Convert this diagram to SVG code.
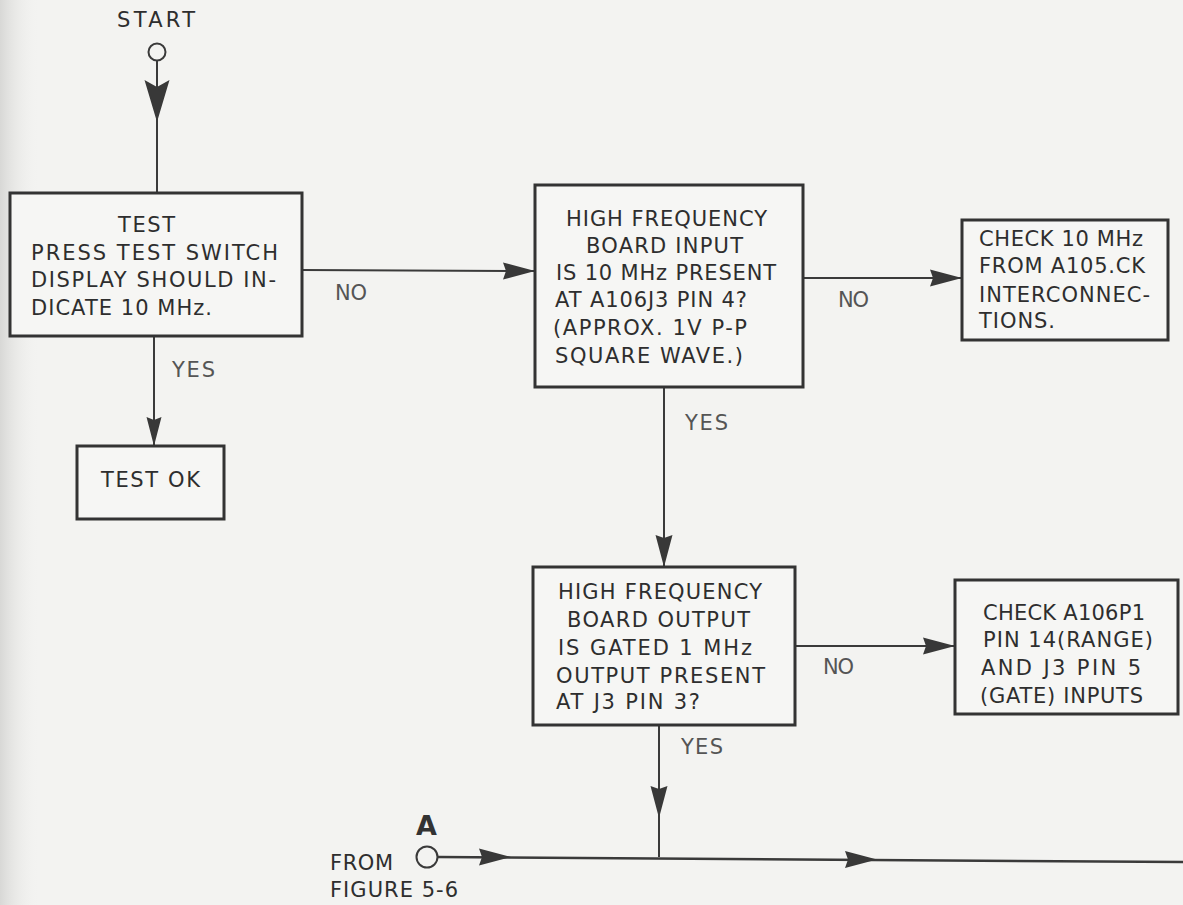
<svg xmlns="http://www.w3.org/2000/svg" xmlns:xlink="http://www.w3.org/1999/xlink" width="1183" height="905" viewBox="0 0 1183 905">
<style>
  .bg { fill: #f3f3f1; }
  .box { fill: #f6f6f4; stroke: #333; stroke-width: 3; }
  .ln { fill: none; stroke: #3a3a3a; stroke-width: 2; }
  .ah { fill: #383838; }
  text { font-family: "DejaVu Sans", "Liberation Sans", sans-serif; font-size: 21px; fill: #2e2e2e; }
  .lbl { fill: #555; }
  .bold { font-weight: bold; font-size: 27px; fill: #333; }
</style>
<defs>
  <linearGradient id="edge" x1="0" x2="1" y1="0" y2="0">
    <stop offset="0" stop-color="#d8d8d6"/>
    <stop offset="1" stop-color="#f3f3f1" stop-opacity="0"/>
  </linearGradient>
  <path id="ah" class="ah" d="M0,0 L-32,-8.5 L-29,0 L-32,8.5 Z"/>
  <path id="ahs" class="ah" d="M0,0 L-29,-7.5 L-26,0 L-29,7.5 Z"/>
  <path id="ahbig" class="ah" d="M0,0 L-42,-12.5 L-35,0 L-42,12.5 Z"/>
</defs>
<rect class="bg" x="0" y="0" width="1183" height="905"/>
<rect x="0" y="0" width="40" height="905" fill="url(#edge)"/>

<g id="connectors">
  <line class="ln" x1="157" y1="61" x2="157" y2="193"/>
  <use xlink:href="#ahbig" transform="translate(157,122) rotate(90)"/>
  <line class="ln" x1="154" y1="336" x2="154" y2="446"/>
  <use xlink:href="#ahs" transform="translate(154,446) rotate(90)"/>
  <line class="ln" x1="302" y1="270" x2="535" y2="271"/>
  <use xlink:href="#ah" transform="translate(535,271)"/>
  <line class="ln" x1="803" y1="278" x2="962" y2="278"/>
  <use xlink:href="#ah" transform="translate(962,278)"/>
  <line class="ln" x1="664" y1="387" x2="664" y2="567"/>
  <use xlink:href="#ah" transform="translate(664,567) rotate(90)"/>
  <line class="ln" x1="795" y1="646" x2="955" y2="646"/>
  <use xlink:href="#ah" transform="translate(955,646)"/>
  <line class="ln" x1="659" y1="726" x2="659" y2="857"/>
  <use xlink:href="#ah" transform="translate(659,818) rotate(90)"/>
  <line class="ln" x1="438" y1="857" x2="1183" y2="862" style="stroke-width:2.5"/>
  <use xlink:href="#ah" transform="translate(511,857)"/>
  <use xlink:href="#ah" transform="translate(877,859.5)"/>
  <text class="lbl" x="335" y="300" textLength="32" lengthAdjust="spacing">NO</text>
  <text class="lbl" x="172" y="377" textLength="43" lengthAdjust="spacing">YES</text>
  <text class="lbl" x="838" y="307" textLength="31" lengthAdjust="spacing">NO</text>
  <text class="lbl" x="685" y="430" textLength="43" lengthAdjust="spacing">YES</text>
  <text class="lbl" x="823" y="674" textLength="31" lengthAdjust="spacing">NO</text>
  <text class="lbl" x="681" y="754" textLength="42" lengthAdjust="spacing">YES</text>
</g>

<g id="start">
  <text x="117" y="27" textLength="78" lengthAdjust="spacing">START</text>
  <circle cx="157" cy="52" r="8.5" fill="none" stroke="#3a3a3a" stroke-width="2"/>
</g>

<g id="box1">
  <rect class="box" x="10" y="193" width="292" height="143"/>
  <text x="118" y="232" textLength="57" lengthAdjust="spacing">TEST</text>
  <text x="31" y="260" textLength="247" lengthAdjust="spacing">PRESS TEST SWITCH</text>
  <text x="31" y="287" textLength="245" lengthAdjust="spacing">DISPLAY SHOULD IN-</text>
  <text x="31" y="315" textLength="181" lengthAdjust="spacing">DICATE 10 MHz.</text>
</g>

<g id="testok">
  <rect class="box" x="77" y="446" width="147" height="73"/>
  <text x="101" y="487" textLength="99" lengthAdjust="spacing">TEST OK</text>
</g>

<g id="box2">
  <rect class="box" x="535" y="185" width="268" height="202"/>
  <text x="566" y="226" textLength="201" lengthAdjust="spacing">HIGH FREQUENCY</text>
  <text x="586" y="253" textLength="157" lengthAdjust="spacing">BOARD INPUT</text>
  <text x="556" y="280" textLength="220" lengthAdjust="spacing">IS 10 MHz PRESENT</text>
  <text x="555" y="307" textLength="192" lengthAdjust="spacing">AT A106J3 PIN 4?</text>
  <text x="553" y="335" textLength="194" lengthAdjust="spacing">(APPROX. 1V P-P</text>
  <text x="555" y="363" textLength="188" lengthAdjust="spacing">SQUARE WAVE.)</text>
</g>

<g id="box3">
  <rect class="box" x="962" y="220" width="206" height="120"/>
  <text x="979" y="246" textLength="164" lengthAdjust="spacing">CHECK 10 MHz</text>
  <text x="979" y="273" textLength="166" lengthAdjust="spacing">FROM A105.CK</text>
  <text x="979" y="302" textLength="171" lengthAdjust="spacing">INTERCONNEC-</text>
  <text x="979" y="328" textLength="76" lengthAdjust="spacing">TIONS.</text>
</g>

<g id="box4">
  <rect class="box" x="533" y="567" width="262" height="158"/>
  <text x="558" y="599" textLength="204" lengthAdjust="spacing">HIGH FREQUENCY</text>
  <text x="567" y="627" textLength="183" lengthAdjust="spacing">BOARD OUTPUT</text>
  <text x="558" y="655" textLength="194" lengthAdjust="spacing">IS GATED 1 MHz</text>
  <text x="556" y="683" textLength="209" lengthAdjust="spacing">OUTPUT PRESENT</text>
  <text x="556" y="709" textLength="144" lengthAdjust="spacing">AT J3 PIN 3?</text>
</g>

<g id="box5">
  <rect class="box" x="955" y="580" width="223" height="134"/>
  <text x="983" y="620" textLength="162" lengthAdjust="spacing">CHECK A106P1</text>
  <text x="983" y="647" textLength="170" lengthAdjust="spacing">PIN 14(RANGE)</text>
  <text x="981" y="675" textLength="160" lengthAdjust="spacing">AND J3 PIN 5</text>
  <text x="980" y="703" textLength="163" lengthAdjust="spacing">(GATE) INPUTS</text>
</g>

<g id="connectorA">
  <text class="bold" x="416" y="835">A</text>
  <circle cx="427" cy="857" r="10.5" fill="none" stroke="#3a3a3a" stroke-width="2"/>
  <text x="330" y="870" textLength="63" lengthAdjust="spacing">FROM</text>
  <text x="330" y="897" textLength="128" lengthAdjust="spacing">FIGURE 5-6</text>
</g>
</svg>
